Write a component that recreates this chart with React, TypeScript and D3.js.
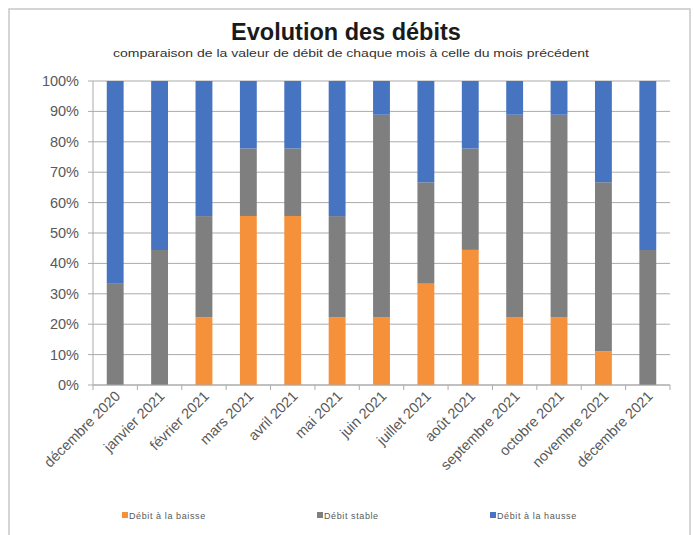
import React from "react";
import * as d3 from "d3";

const categories = [
  "décembre 2020", "janvier 2021", "février 2021", "mars 2021", "avril 2021", "mai 2021",
  "juin 2021", "juillet 2021", "août 2021", "septembre 2021", "octobre 2021", "novembre 2021", "décembre 2021",
];
const baisse = [0, 0, 22.2, 55.6, 55.6, 22.2, 22.2, 33.3, 44.4, 22.2, 22.2, 11.1, 0];
const stable = [33.3, 44.4, 33.3, 22.2, 22.2, 33.3, 66.7, 33.3, 33.3, 66.7, 66.7, 55.6, 44.4];
const hausse = [66.7, 55.6, 44.4, 22.2, 22.2, 44.4, 11.1, 33.3, 22.2, 11.1, 11.1, 33.3, 55.6];
const seriesNames = ["Débit à la baisse", "Débit stable", "Débit à la hausse"];
const seriesKeys = ["baisse", "stable", "hausse"];
const colors = ["#F5913A", "#7F7F7F", "#4674C1"];
const yTicks = [0, 0.1, 0.2, 0.3, 0.4, 0.5, 0.6, 0.7, 0.8, 0.9, 1];

const W = 694, H = 535;
const left = 93, right = 670, top = 81, bottom = 385;

export default function App() {
  const rows = categories.map((c, i) => ({ cat: c, baisse: baisse[i], stable: stable[i], hausse: hausse[i] }));
  const stacked = d3.stack<any>().keys(seriesKeys).offset(d3.stackOffsetExpand)(rows);
  const x = d3.scaleBand<string>().domain(categories).range([left, right]).padding(0);
  const y = d3.scaleLinear().domain([0, 1]).range([bottom, top]);
  const bw = x.bandwidth() * 0.38;
  const fmt = d3.format(".0%");
  const legendX = [122, 317, 490];
  const font = "Liberation Sans, Arial, sans-serif";

  return (
    <svg width={W} height={H} style={{ position: "absolute", left: 0, top: 0, background: "#fff" }} fontFamily={font}>
      <rect x={9} y={9} width={681} height={540} fill="#fff" stroke="#c8c8c8" strokeWidth={1.5} />
      <text x={346} y={40} textAnchor="middle" fontSize={23.5} fontWeight="bold" fill="#1a1a1a">Evolution des débits</text>
      <text x={351} y={57} textAnchor="middle" fontSize={11.5} fill="#333" textLength={476} lengthAdjust="spacingAndGlyphs">comparaison de la valeur de débit de chaque mois à celle du mois précédent</text>
      {yTicks.map((t) => (
        <line key={"g" + t} x1={left - 5} x2={right} y1={y(t)} y2={y(t)} stroke="#ababab" strokeWidth={1} />
      ))}
      {yTicks.map((t) => (
        <text key={"yl" + t} x={79} y={y(t) + 5} textAnchor="end" fontSize={14.5} fill="#595959">{fmt(t)}</text>
      ))}
      <line x1={left} x2={left} y1={top} y2={bottom} stroke="#ababab" />
      {stacked.map((s, si) => (
        <g key={si} fill={colors[si]}>
          {s.map((d, i) => (
            <rect key={i} x={(x(categories[i]) as number) + (x.bandwidth() - bw) / 2} y={y(d[1])} width={bw} height={Math.max(0, y(d[0]) - y(d[1]))} />
          ))}
        </g>
      ))}
      {categories.concat(["end"]).map((c, i) => {
        const xx = left + i * x.step();
        return <line key={"xt" + i} x1={xx} x2={xx} y1={bottom} y2={bottom + 5} stroke="#ababab" />;
      })}
      <line x1={left} x2={right} y1={bottom} y2={bottom} stroke="#ababab" />
      {categories.map((c) => {
        const cx = (x(c) as number) + x.bandwidth() / 2 + 6;
        return (
          <text key={"xl" + c} transform={`translate(${cx},${bottom + 12}) rotate(-45)`} textAnchor="end" fontSize={14.5} fill="#595959">{c}</text>
        );
      })}
      {seriesNames.map((n, i) => (
        <g key={"lg" + i}>
          <rect x={legendX[i]} y={512} width={6} height={6} fill={colors[i]} />
          <text x={legendX[i] + 7} y={518.5} fontSize={9} fill="#595959" letterSpacing={0.6}>{n}</text>
        </g>
      ))}
    </svg>
  );
}
